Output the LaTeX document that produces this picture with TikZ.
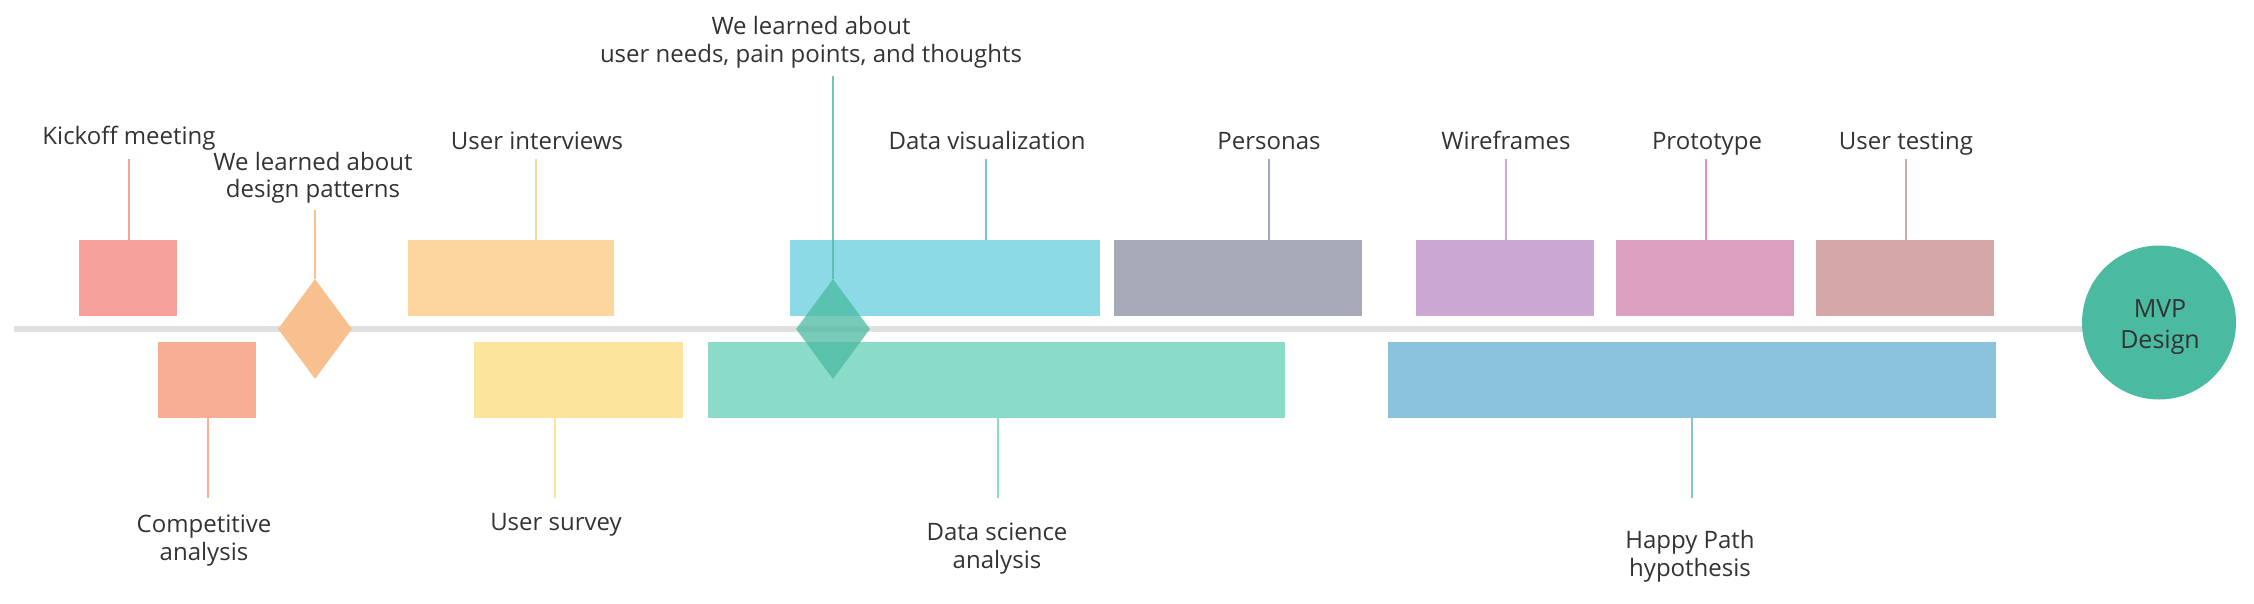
\documentclass[tikz,border=0pt]{standalone}
\usepackage{fontspec}
\setmainfont{Open Sans}
\usetikzlibrary{shapes.geometric}
\definecolor{txt}{HTML}{333333}
\definecolor{tl}{HTML}{E0E0E0}
\definecolor{cKick}{HTML}{F6A19A}
\definecolor{cComp}{HTML}{F8AE95}
\definecolor{cDia}{HTML}{F8C08E}
\definecolor{cInt}{HTML}{FDD69F}
\definecolor{cSurv}{HTML}{FDE49C}
\definecolor{cVis}{HTML}{8CDAE6}
\definecolor{cSci}{HTML}{8ADBC8}
\definecolor{cPers}{HTML}{A7A8B8}
\definecolor{cPersL}{HTML}{A0A3C8}
\definecolor{cWire}{HTML}{CAA8D3}
\definecolor{cProt}{HTML}{DCA0C0}
\definecolor{cTest}{HTML}{D4A8A7}
\definecolor{cHappy}{HTML}{8AC2DB}
\definecolor{cTeal}{HTML}{4ABAA0}
\begin{document}
\begin{tikzpicture}[x=1pt,y=-1pt,
  box/.style={rectangle, draw=none, inner sep=0pt, minimum height=76pt},
  lbl/.style={font=\fontsize{24}{28}\selectfont, text=txt, align=center, anchor=base, inner sep=0pt},
  conn/.style={line width=2pt},
  gem/.style={diamond, draw=none, inner sep=0pt, minimum width=74pt, minimum height=100pt}]
\useasboundingbox (0,0) rectangle (2254,604);
% timeline
\coordinate (tls) at (14,329);
\coordinate (tle) at (2159,329);
\draw[line width=6pt, tl] (tls) -- (tle);
% top boxes
\node[box, fill=cKick, minimum width=98pt] (bKick) at (128,278) {};
\node[box, fill=cInt, minimum width=206pt] (bInt) at (511,278) {};
\node[box, fill=cVis, minimum width=310pt] (bVis) at (945,278) {};
\node[box, fill=cPers, minimum width=248pt] (bPers) at (1238,278) {};
\node[box, fill=cWire, minimum width=178pt] (bWire) at (1505,278) {};
\node[box, fill=cProt, minimum width=178pt] (bProt) at (1705,278) {};
\node[box, fill=cTest, minimum width=178pt] (bTest) at (1905,278) {};
% bottom boxes
\node[box, fill=cComp, minimum width=98pt] (bComp) at (207,380) {};
\node[box, fill=cSurv, minimum width=209pt] (bSurv) at (578.5,380) {};
\node[box, fill=cSci, minimum width=577pt] (bSci) at (996.5,380) {};
\node[box, fill=cHappy, minimum width=608pt] (bHappy) at (1692,380) {};
% labels (base = baseline of last line)
\node[lbl] (lKick) at (129,145) {Kickoff meeting};
\node[lbl] (lDia1) at (313,198) {We learned about\\design patterns};
\node[lbl] (lInt) at (537,150) {User interviews};
\node[lbl] (lDia2) at (811,63) {We learned about\\user needs, pain points, and thoughts};
\node[lbl] (lVis) at (987,150) {Data visualization};
\node[lbl] (lPers) at (1269,150) {Personas};
\node[lbl] (lWire) at (1506,150) {Wireframes};
\node[lbl] (lProt) at (1707,150) {Prototype};
\node[lbl] (lTest) at (1906,150) {User testing};
\node[lbl] (lComp) at (204,560) {Competitive\\analysis};
\node[lbl] (lSurv) at (556,530) {User survey};
\node[lbl] (lSci) at (997,568) {Data science\\analysis};
\node[lbl] (lHappy) at (1690,576) {Happy Path\\hypothesis};
% connector ends
\coordinate (cKick) at (129,159);
\coordinate (cDia1) at (315,210);
\coordinate (cInt) at (536,159);
\coordinate (cDia2) at (833,76);
\coordinate (cVis) at (986,159);
\coordinate (cPers) at (1269,159);
\coordinate (cWire) at (1506,159);
\coordinate (cProt) at (1705.5,159);
\coordinate (cTest) at (1906,159);
\coordinate (cComp) at (208,498);
\coordinate (cSurv) at (555,498);
\coordinate (cSci) at (997.5,498);
\coordinate (cHappy) at (1692,498);
% connectors
\draw[conn, cKick] (cKick) -- (cKick |- bKick.north);
\draw[conn, cInt] (cInt) -- (cInt |- bInt.north);
\draw[conn, cVis!90!black] (cVis) -- (cVis |- bVis.north);
\draw[conn, cPersL] (cPers) -- (cPers |- bPers.north);
\draw[conn, cWire] (cWire) -- (cWire |- bWire.north);
\draw[conn, cProt!90!magenta] (cProt) -- (cProt |- bProt.north);
\draw[conn, cTest] (cTest) -- (cTest |- bTest.north);
\draw[conn, cComp] (cComp) -- (cComp |- bComp.south);
\draw[conn, cSurv] (cSurv) -- (cSurv |- bSurv.south);
\draw[conn, cSci] (cSci) -- (cSci |- bSci.south);
\draw[conn, cHappy] (cHappy) -- (cHappy |- bHappy.south);
% diamonds
\node[gem, fill=cDia] (d1) at (315,329) {};
\draw[conn, cDia] (cDia1) -- (d1.north);
\node[gem, fill=cTeal, fill opacity=0.75] (d2) at (833,329) {};
\draw[conn, cTeal, opacity=0.8] (cDia2) -- (d2.north);
% end circle
\node[circle, fill=cTeal, minimum size=154pt, inner sep=0pt] (mvp) at (2159,322.5) {};
\node[lbl, font=\fontsize{25}{31}\selectfont] (lMvp) at (2160,348) {MVP\\Design};
\end{tikzpicture}
\end{document}
